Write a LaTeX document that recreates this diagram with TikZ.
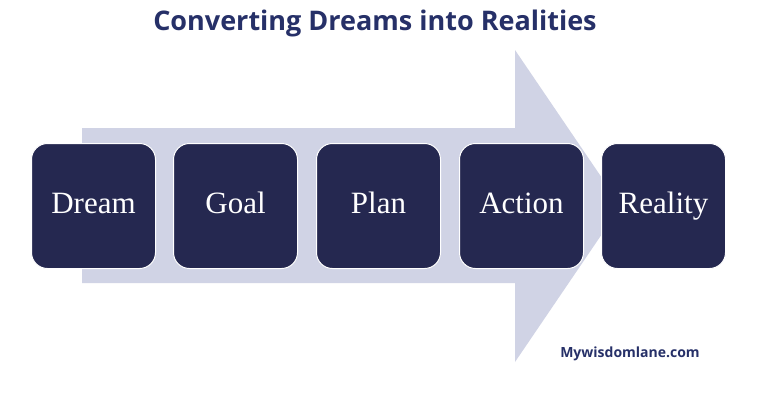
\documentclass[tikz,border=0pt]{standalone}
\usepackage{fontspec}
\setmainfont{Liberation Serif}
\newfontfamily\titlefont{Open Sans}
\definecolor{navy}{HTML}{252850}
\definecolor{tnavy}{HTML}{263068}
\definecolor{lav}{HTML}{D0D3E5}
\begin{document}
\begin{tikzpicture}[x=1pt,y=-1pt,
  stepbox/.style={draw=white,line width=1pt,fill=navy,rounded corners=16pt,minimum width=124pt,minimum height=125pt,text=white,font=\fontsize{31}{32}\selectfont,inner sep=0pt,text height=21pt,text depth=7pt}]
\useasboundingbox[fill=white] (0,0) rectangle (768,402);
\fill[lav] (82,128) -- (515,128) -- (515,50) -- (621,206) -- (515,362) -- (515,283) -- (82,283) -- cycle;
\node[font=\titlefont\bfseries\fontsize{27}{30}\selectfont,text=tnavy] (title) at (375,23) {Converting Dreams into Realities};
\node[stepbox] (dream) at (93.5,206) {Dream};
\node[stepbox] (goal) at (235.5,206) {Goal};
\node[stepbox] (plan) at (378.5,206) {Plan};
\node[stepbox] (action) at (521.5,206) {Action};
\node[stepbox] (reality) at (663.5,206) {Reality};
\node[font=\titlefont\bfseries\fontsize{14}{16}\selectfont,text=tnavy] (site) at (630,354) {Mywisdomlane.com};
\end{tikzpicture}
\end{document}
